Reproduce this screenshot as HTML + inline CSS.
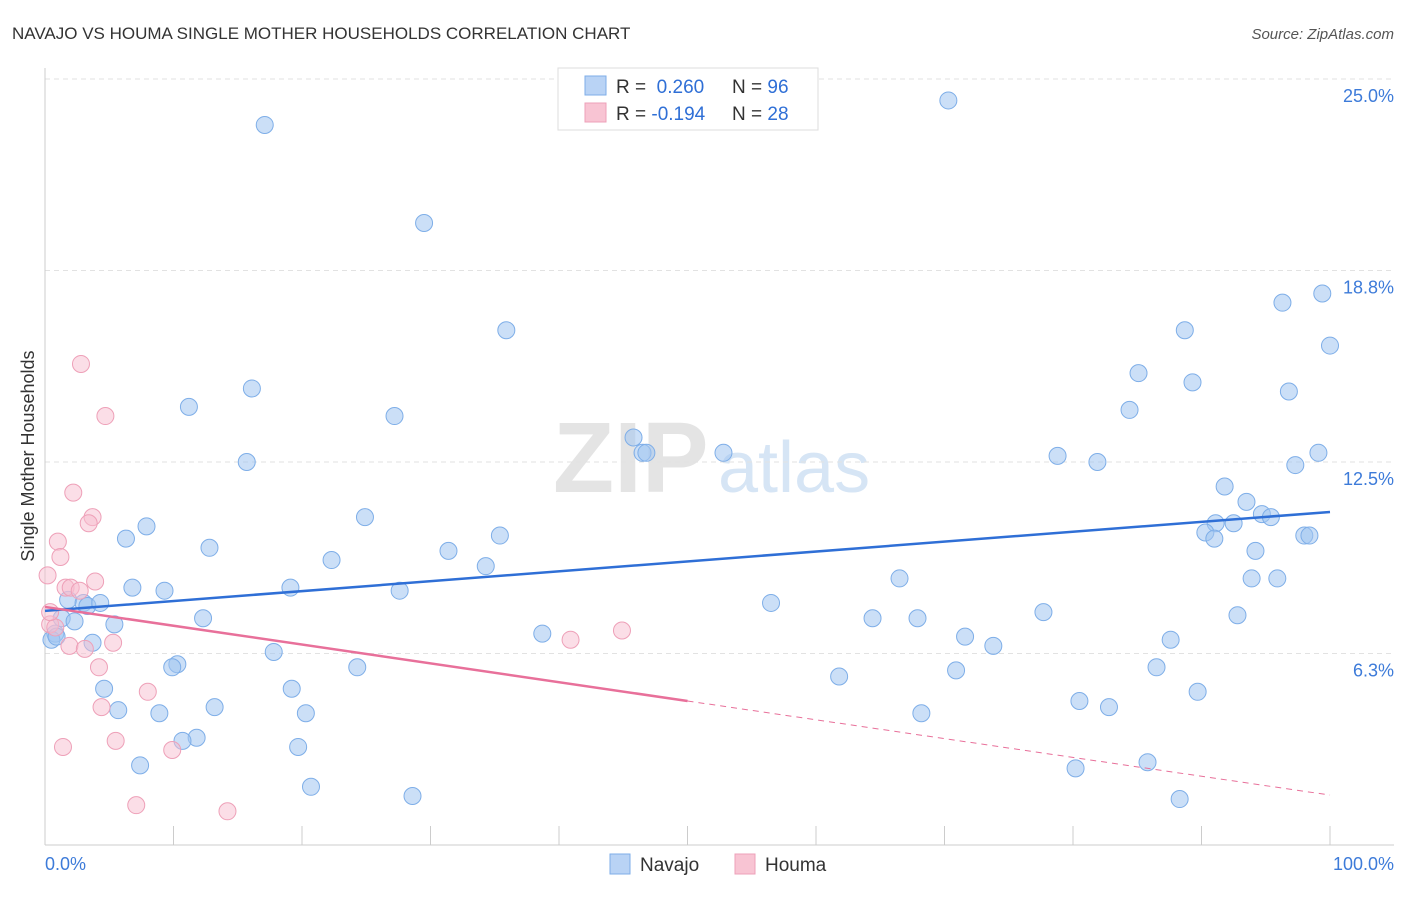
<!DOCTYPE html>
<html><head><meta charset="utf-8"><style>
body{margin:0;background:#fff;font-family:"Liberation Sans",sans-serif;}
svg text{font-family:"Liberation Sans",sans-serif;}
</style></head><body>
<svg id="chart" width="1406" height="892">
<text x="12" y="39" font-size="17" fill="#333">NAVAJO VS HOUMA SINGLE MOTHER HOUSEHOLDS CORRELATION CHART</text>
<text x="1394" y="39" font-size="15" fill="#555" font-style="italic" text-anchor="end">Source: ZipAtlas.com</text>
<text x="553" y="492" font-size="100" fill="#e4e4e4" font-family="Liberation Serif" font-weight="bold">ZIP</text>
<text x="718" y="492" font-size="72" fill="#d6e5f5">atlas</text>
<text transform="translate(34,456) rotate(-90)" font-size="18" fill="#333" text-anchor="middle">Single Mother Households</text>
<g id="grid"></g><g id="marks"></g><g id="lines"></g>
<g>
<rect x="558" y="68" width="260" height="62" fill="#fff" stroke="#ddd"/>
<rect x="585" y="76" width="21" height="19" fill="#b9d3f5" stroke="#7eaee8"/>
<rect x="585" y="103" width="21" height="19" fill="#f8c4d3" stroke="#eea0b8"/>
<text x="616" y="93" font-size="19" fill="#333">R = <tspan fill="#2f6fd6">&#160;0.260</tspan><tspan x="732">N = </tspan><tspan fill="#2f6fd6">96</tspan></text>
<text x="616" y="120" font-size="19" fill="#333">R = <tspan fill="#2f6fd6">-0.194</tspan><tspan x="732">N = </tspan><tspan fill="#2f6fd6">28</tspan></text>
</g>
<g>
<rect x="610" y="854" width="20" height="20" fill="#b9d3f5" stroke="#7eaee8"/>
<text x="640" y="871" font-size="19" fill="#333">Navajo</text>
<rect x="735" y="854" width="20" height="20" fill="#f8c4d3" stroke="#eea0b8"/>
<text x="765" y="871" font-size="19" fill="#333">Houma</text>
</g>
<text x="45" y="870" font-size="18" fill="#3d7bd9">0.0%</text>
<text x="1394" y="870" font-size="18" fill="#3d7bd9" text-anchor="end">100.0%</text>
</svg>
<script>
const yTicks=[25,18.75,12.5,6.25];
const yTickLabels=["25.0%","18.8%","12.5%","6.3%"];
const navX=[17.1,70.3,29.5,35.9,16.1,11.2,27.2,15.7,45.8,46.5,46.8,52.8,7.9,6.3,12.8,24.9,35.4,31.4,22.3,34.3,6.8,9.3,19.1,27.6,1.8,3.0,3.3,4.3,1.3,2.3,5.4,12.3,0.8,0.5,0.9,3.7,17.8,10.3,9.9,24.3,4.6,19.2,5.7,8.9,13.2,20.3,11.8,10.7,19.7,7.4,20.7,28.6,38.7,56.5,66.5,64.4,67.9,71.6,73.8,61.8,70.9,68.2,77.7,78.8,81.9,80.5,82.8,80.2,85.8,88.3,85.1,84.4,88.7,89.3,91.8,93.5,91.1,90.3,91.0,92.5,94.7,95.4,94.2,93.9,95.9,92.8,87.6,86.5,89.7,96.3,99.4,100,96.8,99.1,97.3,98.0,98.4];
const navY=[23.5,24.3,20.3,16.8,14.9,14.3,14.0,12.5,13.3,12.8,12.8,12.8,10.4,10.0,9.7,10.7,10.1,9.6,9.3,9.1,8.4,8.3,8.4,8.3,8.0,7.9,7.8,7.9,7.4,7.3,7.2,7.4,6.9,6.7,6.8,6.6,6.3,5.9,5.8,5.8,5.1,5.1,4.4,4.3,4.5,4.3,3.5,3.4,3.2,2.6,1.9,1.6,6.9,7.9,8.7,7.4,7.4,6.8,6.5,5.5,5.7,4.3,7.6,12.7,12.5,4.7,4.5,2.5,2.7,1.5,15.4,14.2,16.8,15.1,11.7,11.2,10.5,10.2,10.0,10.5,10.8,10.7,9.6,8.7,8.7,7.5,6.7,5.8,5.0,17.7,18.0,16.3,14.8,12.8,12.4,10.1,10.1];
const houX=[0.2,2.8,4.7,2.2,3.7,3.4,1.0,1.2,3.9,1.6,2.0,2.7,0.4,0.8,1.9,3.1,5.3,4.2,40.9,44.9,8.0,4.4,5.5,1.4,9.9,7.1,14.2,0.4];
const houY=[8.8,15.7,14.0,11.5,10.7,10.5,9.9,9.4,8.6,8.4,8.4,8.3,7.2,7.1,6.5,6.4,6.6,5.8,6.7,7.0,5.0,4.5,3.4,3.2,3.1,1.3,1.1,7.6];
const navTrend=[7.64,10.87];
const houTrend=[7.77,1.63];
const NS="http://www.w3.org/2000/svg";
const xs=v=>45+v*12.85, ys=v=>845-v*30.64;
function mk(t,a,p){const e=document.createElementNS(NS,t);for(const k in a)e.setAttribute(k,a[k]);p.appendChild(e);return e;}
const grid=document.getElementById('grid'),marks=document.getElementById('marks'),lines=document.getElementById('lines');
yTicks.forEach((t,i)=>{
 const l=mk('line',{x1:45,x2:1394,y1:ys(t),y2:ys(t),stroke:'#e2e2e2','stroke-dasharray':'5,4'},grid);
 
 
 const tx=mk('text',{x:1394,y:ys(t)+23,'font-size':18,fill:'#3d7bd9','text-anchor':'end'},grid);tx.textContent=yTickLabels[i];
 
 
});
mk('line',{x1:45,x2:45,y1:68,y2:845,stroke:'#ccc'},grid);
mk('line',{x1:45,x2:1394,y1:845,y2:845,stroke:'#ccc'},grid);
for(let i=0;i<=10;i++){const t=mk('line',{x1:xs(i*10),x2:xs(i*10),y1:826,y2:845,stroke:'#ccc'},grid);
 
 }
navX.forEach((x,i)=>{const c=mk('circle',{cx:xs(x),cy:ys(navY[i]),r:8.5,fill:'rgba(160,196,240,0.55)',stroke:'#7eaee8','stroke-width':1},marks);
 
 });
houX.forEach((x,i)=>{const c=mk('circle',{cx:xs(x),cy:ys(houY[i]),r:8.5,fill:'rgba(248,190,208,0.5)',stroke:'#eea0b8','stroke-width':1},marks);
 
 });
const nl=mk('line',{x1:xs(0),y1:ys(navTrend[0]),x2:xs(100),y2:ys(navTrend[1]),stroke:'#2f6fd6','stroke-width':2.5},lines);


const hm=houTrend[0]+(houTrend[1]-houTrend[0])*0.5;
const hl=mk('line',{x1:xs(0),y1:ys(houTrend[0]),x2:xs(50),y2:ys(hm),stroke:'#e8709a','stroke-width':2.5},lines);


const hd=mk('line',{x1:xs(50),y1:ys(hm),x2:xs(100),y2:ys(houTrend[1]),stroke:'#e8709a','stroke-width':1,'stroke-dasharray':'6,5'},lines);


</script>
</body></html>
